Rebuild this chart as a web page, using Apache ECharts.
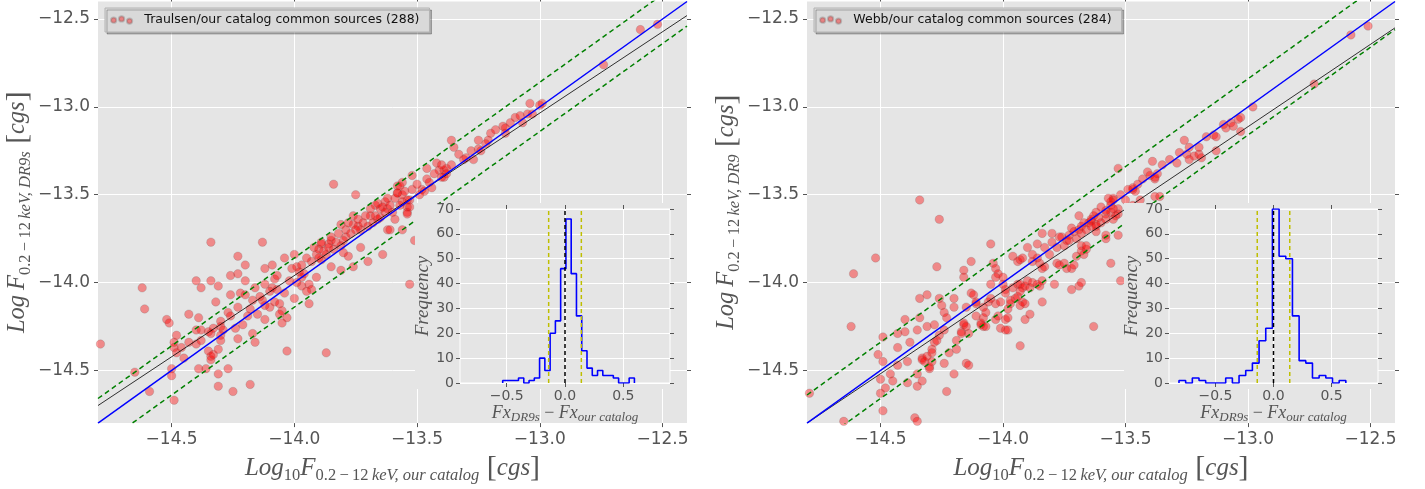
<!DOCTYPE html>
<html><head><meta charset="utf-8">
<script src="https://cdn.jsdelivr.net/npm/echarts@6/dist/echarts.min.js"></script>
<style>html,body{margin:0;padding:0;background:#fff}#c{width:1425px;height:489px}</style>
</head><body><div id="c"></div><script>
// ---------------- data ----------------
const axisMin = -14.8, axisMax = -12.4;
const mainTicks = [-14.5, -14.0, -13.5, -13.0, -12.5];
const histTicksX = [-0.5, 0, 0.5];
const histYMax = 70;
const leftName = 'Traulsen/our catalog common sources (288)';
const rightName = 'Webb/our catalog common sources (284)';

const leftPoints = [
[-14.79,-14.35],[-14.62,-14.03],[-14.61,-14.15],[-14.65,-14.51],[-14.59,-14.62],
[-14.52,-14.21],[-14.51,-14.23],[-14.48,-14.30],[-14.49,-14.34],[-14.49,-14.37],[-14.48,-14.40],[-14.46,-14.37],
[-14.43,-14.18],[-14.43,-14.34],[-14.45,-14.43],[-14.50,-14.49],[-14.50,-14.53],[-14.49,-14.67],
[-14.40,-13.99],[-14.38,-14.03],[-14.39,-14.20],[-14.40,-14.27],[-14.38,-14.27],[-14.40,-14.35],[-14.38,-14.33],[-14.39,-14.49],[-14.36,-14.49],
[-14.34,-13.77],[-14.34,-13.99],[-14.35,-14.28],[-14.34,-14.29],[-14.33,-14.26],[-14.35,-14.39],[-14.34,-14.42],[-14.34,-14.44],[-14.33,-14.41],
[-14.31,-14.52],[-14.31,-14.59],[-14.31,-14.38],[-14.31,-14.02],[-14.32,-14.11],[-14.30,-14.22],[-14.30,-14.25],[-14.29,-14.27],[-14.30,-14.30],[-14.30,-14.33],
[-14.27,-14.49],[-14.25,-14.62],[-14.26,-13.96],[-14.26,-14.07],[-14.27,-14.17],[-14.26,-14.19],
[-14.23,-13.85],[-14.23,-13.95],[-14.23,-14.14],[-14.22,-14.06],[-14.23,-14.32],
[-14.20,-13.90],[-14.20,-13.99],[-14.20,-14.07],[-14.19,-14.19],[-14.18,-14.58],[-14.17,-14.29],[-14.16,-14.34],[-14.16,-14.03],[-14.17,-14.10],
[-14.13,-13.77],[-14.12,-13.92],[-14.12,-14.01],[-14.13,-14.10],[-14.12,-14.13],[-14.10,-14.14],[-14.12,-14.21],
[-14.09,-13.90],[-14.08,-13.98],[-14.09,-14.03],[-14.07,-14.04],[-14.08,-14.11],[-14.06,-14.12],[-14.05,-14.16],[-14.06,-14.18],[-14.03,-14.20],[-14.05,-14.23],[-14.03,-14.39],
[-14.04,-13.86],[-14.00,-13.84],[-13.99,-13.91],[-14.01,-13.92],[-14.00,-14.09],[-13.98,-13.94],[-13.97,-13.97],[-13.97,-14.02],[-13.94,-14.01],[-13.93,-14.04],[-13.94,-14.12],
[-13.93,-13.88],[-13.91,-13.84],[-13.90,-13.81],[-13.89,-13.78],[-13.87,-13.84],[-13.86,-13.78],[-13.91,-13.97],[-13.87,-14.40],[-13.85,-13.91],[-13.84,-13.81],[-13.81,-13.79],[-13.80,-13.83],[-13.78,-13.85],[-13.76,-13.91],[-13.81,-13.93],[-13.73,-13.80],[-13.70,-13.88],[-13.64,-13.84],[-13.89,-13.87],
[-13.84,-13.44],[-13.75,-13.50],[-13.81,-13.67],[-13.76,-13.67],[-13.74,-13.68],[-13.73,-13.70],[-13.79,-13.74],[-13.69,-13.62],[-13.67,-13.56],[-13.65,-13.58],[-13.62,-13.58],[-13.63,-13.54],[-13.58,-13.45],[-13.58,-13.49],[-13.59,-13.64],[-13.62,-13.70],[-13.66,-13.64],[-13.89,-13.77],[-13.85,-13.76],
[-13.61,-13.70],[-13.56,-13.70],[-13.54,-13.57],[-13.54,-13.60],[-13.53,-13.53],[-13.56,-13.54],[-13.58,-13.49],[-13.48,-13.47],[-13.47,-13.48],[-13.51,-13.76],[-13.53,-14.01],
[-13.56,-13.43],[-13.57,-13.45],[-13.56,-13.50],[-13.54,-13.53],[-13.53,-13.57],[-13.54,-13.61],[-13.52,-13.39],
[-13.46,-13.35],[-13.46,-13.41],[-13.44,-13.46],[-13.42,-13.32],[-13.41,-13.36],[-13.39,-13.36],[-13.38,-13.35],[-13.38,-13.38],[-13.39,-13.40],[-13.40,-13.40],
[-13.36,-13.19],[-13.35,-13.23],[-13.36,-13.33],[-13.30,-13.29],[-13.27,-13.30],[-13.25,-13.24],[-13.24,-13.25],[-13.25,-13.19],[-13.21,-13.19],[-13.20,-13.15],
[-13.15,-13.11],[-13.14,-13.12],[-13.14,-13.15],[-13.10,-13.06],[-13.08,-13.05],[-13.07,-13.09],[-13.05,-13.04],[-13.03,-13.04],[-13.04,-12.98],[-12.99,-12.98],
[-12.74,-12.76],[-12.59,-12.56],[-12.52,-12.53],
[-13.97,-13.90],[-13.95,-13.86],[-13.92,-13.80],[-13.90,-13.86],[-13.88,-13.82],[-13.86,-13.80],[-13.85,-13.74],[-13.83,-13.77],[-13.82,-13.72],[-13.80,-13.76],[-13.79,-13.70],[-13.78,-13.66],[-13.77,-13.72],[-13.76,-13.62],[-13.75,-13.70],[-13.74,-13.64],[-13.72,-13.66],[-13.71,-13.62],[-13.70,-13.68],[-13.69,-13.58],[-13.68,-13.66],[-13.67,-13.62],[-13.66,-13.55],[-13.65,-13.63],[-13.64,-13.57],[-13.63,-13.60],[-13.62,-13.52],[-13.61,-13.56],[-13.60,-13.60],[-13.59,-13.52],[-13.57,-13.56],[-13.55,-13.48],[-13.52,-13.47],[-13.50,-13.44],[-13.49,-13.50],[-13.45,-13.43],[-13.43,-13.38],[-13.40,-13.33],[-13.33,-13.27],[-13.31,-13.30],[-13.28,-13.25],[-13.22,-13.21],[-13.18,-13.13],[-13.12,-13.09],[-13.00,-12.99],
[-14.10,-14.05],[-14.07,-13.96],[-14.04,-14.06],[-14.02,-13.99],[-13.99,-14.00],[-13.96,-13.95],[-13.95,-14.05],[-14.14,-14.08],[-14.18,-14.15],[-14.21,-14.24],[-14.24,-14.26],[-14.15,-14.18]
];

const rightPoints = [
[-14.79,-14.63],[-14.65,-14.79],[-14.62,-14.25],[-14.61,-13.95],[-14.52,-13.86],[-14.51,-14.41],[-14.49,-14.31],[-14.49,-14.45],[-14.50,-14.55],[-14.50,-14.63],[-14.49,-14.73],[-14.48,-14.60],[-14.46,-14.52],[-14.45,-14.56],
[-14.43,-14.37],[-14.43,-14.29],[-14.43,-14.47],[-14.40,-14.21],[-14.40,-14.28],[-14.39,-14.45],[-14.39,-14.57],[-14.38,-14.34],[-14.36,-14.77],[-14.35,-14.79],[-14.35,-14.59],[-14.35,-14.52],[-14.35,-14.27],[-14.34,-14.20],[-14.34,-14.09],[-14.33,-14.56],[-14.33,-14.43],
[-14.33,-14.44],[-14.32,-14.45],[-14.31,-14.42],[-14.30,-14.49],[-14.29,-14.38],[-14.29,-14.40],[-14.29,-14.45],[-14.28,-14.34],[-14.30,-14.48],
[-14.31,-14.25],[-14.28,-14.24],[-14.31,-14.07],[-14.27,-13.91],[-14.27,-14.33],[-14.26,-14.09],[-14.25,-14.13],[-14.26,-14.30],[-14.24,-14.17],[-14.24,-14.27],[-14.24,-14.46],[-14.23,-14.20],[-14.23,-14.62],[-14.22,-14.40],[-14.20,-14.52],[-14.20,-14.09],[-14.20,-14.14],[-14.19,-14.38],[-14.19,-14.33],
[-14.17,-14.28],[-14.16,-14.24],[-14.16,-14.23],[-14.17,-14.29],[-14.14,-14.29],[-14.15,-14.25],[-14.16,-13.93],[-14.16,-13.97],[-14.15,-14.46],[-14.14,-14.47],[-14.15,-14.14],
[-14.13,-14.06],[-14.12,-14.07],[-14.11,-14.12],[-14.11,-14.11],[-14.13,-13.88],
[-14.11,-14.19],[-14.09,-14.23],[-14.08,-14.25],[-14.07,-14.25],[-14.09,-14.24],[-14.08,-14.20],[-14.08,-14.14],[-14.07,-14.17],[-14.06,-14.11],[-14.05,-14.09],
[-14.05,-13.78],[-14.05,-14.01],[-14.04,-13.89],[-14.03,-13.92],[-14.02,-13.95],[-14.03,-13.97],[-14.03,-14.12],[-14.01,-14.11],[-14.02,-14.19],[-14.03,-14.21],
[-14.00,-13.97],[-14.00,-14.01],[-13.99,-14.04],[-13.99,-14.06],[-14.01,-14.26],[-13.99,-14.27],[-13.98,-14.27],[-13.99,-14.21],[-13.98,-14.20],[-13.97,-14.12],[-13.98,-14.15],[-13.97,-14.10],
[-13.93,-14.36],[-13.96,-13.85],[-13.94,-13.88],[-13.93,-13.87],[-13.92,-13.86],
[-13.96,-14.03],[-13.94,-14.01],[-13.93,-14.01],[-13.92,-14.03],[-13.91,-14.02],[-13.90,-13.99],[-13.89,-14.03],[-13.88,-14.00],[-13.86,-14.01],[-13.85,-14.02],[-13.84,-13.99],
[-13.95,-14.09],[-13.94,-14.08],[-13.93,-14.05],[-13.92,-14.11],[-13.91,-14.12],[-13.93,-14.13],[-13.89,-14.18],[-13.91,-14.21],
[-13.88,-13.88],[-13.86,-13.86],[-13.85,-13.89],[-13.84,-13.92],[-13.83,-13.91],[-13.79,-14.01],[-13.78,-13.89],[-13.77,-13.90],[-13.75,-13.89],[-13.74,-13.92],[-13.72,-13.92],[-13.71,-13.90],[-13.70,-13.85],[-13.67,-13.84],[-13.72,-14.04],[-13.69,-14.02],[-13.68,-14.00],[-13.68,-13.79],[-13.68,-13.82],[-13.66,-13.81],[-13.63,-14.25],[-13.66,-13.79],[-13.84,-14.11],
[-14.34,-13.53],[-14.26,-13.64],[-13.84,-13.72],[-13.80,-13.72],[-13.69,-13.62],[-13.76,-13.74],[-13.74,-13.76],[-13.73,-13.73],[-13.71,-13.71],[-13.69,-13.70],[-13.68,-13.68],[-13.65,-13.66],[-13.63,-13.62],[-13.62,-13.68],[-13.64,-13.65],
[-12.58,-12.59],[-12.51,-12.54],[-12.73,-12.87],[-12.98,-13.00],[-13.03,-13.06],[-13.04,-13.07],[-13.07,-13.09],[-13.06,-13.11],[-13.09,-13.12],[-13.03,-13.14],[-13.14,-13.16],[-13.13,-13.17],[-13.13,-13.25],[-13.26,-13.19],[-13.24,-13.23],[-13.25,-13.27],[-13.24,-13.30],[-13.22,-13.28],[-13.20,-13.27],[-13.20,-13.23],[-13.19,-13.29],[-13.29,-13.32],[-13.39,-13.31],[-13.41,-13.37],[-13.40,-13.39],[-13.38,-13.41],[-13.37,-13.38],[-13.38,-13.40],[-13.53,-13.35],[-13.47,-13.47],[-13.46,-13.48],[-13.47,-13.46],[-13.44,-13.53],[-13.55,-13.52],[-13.55,-13.53],[-13.56,-13.56],[-13.58,-13.61],[-13.56,-13.60],[-13.53,-13.58],[-13.53,-13.61],[-13.54,-13.62],[-13.47,-13.56],[-13.38,-13.51],[-13.36,-13.51],[-13.34,-13.60],[-13.35,-13.65],[-13.58,-13.75],[-13.47,-13.75],[-13.53,-13.73],
[-13.52,-13.99],[-13.56,-13.89],[-13.58,-13.73],[-13.62,-13.71],[-13.55,-13.64],[-13.58,-13.59],[-13.56,-13.54],[-13.62,-13.67],[-13.60,-13.66],[-13.64,-13.64],
[-13.90,-13.80],[-13.88,-13.84],[-13.86,-13.78],[-13.83,-13.80],[-13.81,-13.84],[-13.80,-13.77],[-13.78,-13.80],[-13.77,-13.74],[-13.75,-13.79],[-13.73,-13.76],[-13.72,-13.69],[-13.70,-13.75],[-13.68,-13.72],[-13.67,-13.66],[-13.66,-13.70],[-13.64,-13.68],[-13.62,-13.60],[-13.61,-13.63],[-13.60,-13.57],[-13.58,-13.64],[-13.57,-13.52],[-13.55,-13.58],[-13.52,-13.50],[-13.50,-13.53],[-13.49,-13.47],[-13.45,-13.44],[-13.43,-13.41],[-13.35,-13.33],[-13.32,-13.30],[-13.28,-13.26],[-13.17,-13.17],[-13.10,-13.10]
];

// reference lines (end points)
const leftOneToOne = [[-14.8,-14.8],[-12.4,-12.4]];
const leftFit      = [[-14.8,-14.70],[-12.4,-12.48]];
const leftUpper    = [[-14.8,-14.66],[-12.4,-12.26]];
const leftLower    = [[-14.8,-14.94],[-12.4,-12.54]];
const rightOneToOne= [[-14.8,-14.8],[-12.4,-12.4]];
const rightFit     = [[-14.8,-14.8],[-12.4,-12.55]];
const rightUpper   = [[-14.8,-14.64],[-12.4,-12.24]];
const rightLower   = [[-14.8,-14.96],[-12.4,-12.56]];

// histograms (25 bins between range ends)
const histLeftRange  = [-0.534, 0.595];
const histLeftCounts = [1,1,1,2,0,1,2,10,5,20,25,46,66,44,27,13,6,3,5,3,3,2,0,0,2];
const histRightRange = [-0.814, 0.623];
const histRightCounts= [1,0,2,1,0,0,0,2,0,3,5,8,17,22,70,51,50,27,9,8,2,3,2,0,1];
const histLeftCut  = [-0.14, 0.14];
const histRightCut = [-0.14, 0.14];

// ---------------- style ----------------
const GREY = '#E5E5E5', TXT = '#555555';
const MATH = "'Liberation Serif', 'DejaVu Serif', serif";
const SANS = "'DejaVu Sans', sans-serif";
const fmt = v => (v < -1e-9 ? '\u2212' : '') + Math.abs(v).toFixed(1);

function stepData(range, counts) {
  const n = counts.length, w = (range[1] - range[0]) / n;
  const d = [[range[0], 0]];
  counts.forEach((c, i) => d.push([range[0] + i * w, c]));
  d.push([range[1], counts[n - 1]]);
  d.push([range[1], 0]);
  return d;
}

function richMath(main, sub) {
  return {
    m: {fontFamily: MATH, fontStyle: 'italic', fontSize: main, color: TXT, lineHeight: 32, verticalAlign: 'middle'},
    r: {fontFamily: MATH, fontSize: sub, color: TXT, lineHeight: sub + 1, verticalAlign: 'bottom'},
    s: {fontFamily: MATH, fontStyle: 'italic', fontSize: sub, color: TXT, lineHeight: sub + 1, verticalAlign: 'bottom'},
    b: {fontFamily: MATH, fontSize: main + 5, color: TXT, lineHeight: 32, verticalAlign: 'middle'}
  };
}
const xName = '{m|Log}{r|10}{m|F}{r|0.2\u2009\u2212\u200912\u2009}{s|keV, our catalog}{b| [}{m|cgs}{b|]}';
const yNameL = '{m|Log\u2009F}{r|0.2\u2009\u2212\u200912\u2009}{s|keV, DR9s}{b| [}{m|cgs}{b|]}';
const yNameR = '{m|Log\u2009F}{r|0.2\u2009\u2212\u200912\u2009}{s|keV, DR9}{b| [}{m|cgs}{b|]}';
const richInset = {
  m: {fontFamily: MATH, fontStyle: 'italic', fontSize: 18, color: TXT, lineHeight: 22, verticalAlign: 'middle'},
  o: {fontFamily: MATH, fontSize: 18, color: TXT, lineHeight: 22, verticalAlign: 'middle'},
  s: {fontFamily: MATH, fontStyle: 'italic', fontSize: 13, color: TXT, lineHeight: 13, verticalAlign: 'bottom'}
};
const insetXName = '{m|Fx}{s|DR9s}{o| \u2212 }{m|Fx}{s|our catalog}';

const tickStyle = {show: true, inside: false, length: 4, lineStyle: {color: TXT, width: 1}};
const noLine = {show: false, onZero: false};

function mainAxes(grid, yName) {
  const xs = [{
    type: 'value', gridIndex: grid, min: axisMin, max: axisMax, position: 'bottom',
    axisLine: noLine,
    axisTick: Object.assign({customValues: mainTicks}, tickStyle),
    axisLabel: {customValues: mainTicks, formatter: fmt, color: TXT, fontSize: 17, fontFamily: SANS, margin: 8},
    splitLine: {show: true, lineStyle: {color: '#fff', width: 1}},
    name: xName, nameLocation: 'middle', nameGap: 23, nameTextStyle: {rich: richMath(25, 16.5)}
  }, {
    type: 'value', gridIndex: grid, min: axisMin, max: axisMax, position: 'top',
    axisLine: noLine, axisTick: Object.assign({customValues: mainTicks}, tickStyle),
    axisLabel: {show: false}, splitLine: {show: false}
  }];
  const ys = [{
    type: 'value', gridIndex: grid, min: axisMin, max: axisMax, position: 'left',
    axisLine: noLine,
    axisTick: Object.assign({customValues: mainTicks}, tickStyle),
    axisLabel: {customValues: mainTicks, formatter: fmt, color: TXT, fontSize: 17, fontFamily: SANS, margin: 8},
    splitLine: {show: true, lineStyle: {color: '#fff', width: 1}},
    name: yName, nameLocation: 'middle', nameRotate: 90, nameGap: 60, nameTextStyle: {rich: richMath(24.5, 16.5)}
  }, {
    type: 'value', gridIndex: grid, min: axisMin, max: axisMax, position: 'right',
    axisLine: noLine, axisTick: Object.assign({customValues: mainTicks}, tickStyle),
    axisLabel: {show: false}, splitLine: {show: false}
  }];
  return {xs, ys};
}
function insetAxes(grid) {
  const xs = [{
    type: 'value', gridIndex: grid, min: -0.9, max: 0.9, splitNumber: 3, position: 'bottom', zlevel: 1,
    axisLine: noLine,
    axisTick: Object.assign({customValues: histTicksX}, tickStyle),
    axisLabel: {customValues: histTicksX, formatter: fmt, color: TXT, fontSize: 14, fontFamily: SANS, margin: 6},
    splitLine: {show: true, lineStyle: {color: '#fff', width: 1}},
    name: insetXName, nameLocation: 'middle', nameGap: 19, nameTextStyle: {rich: richInset}
  }, {
    type: 'value', gridIndex: grid, min: -0.9, max: 0.9, splitNumber: 3, position: 'top', zlevel: 1,
    axisLine: noLine, axisTick: Object.assign({customValues: histTicksX}, tickStyle),
    axisLabel: {show: false}, splitLine: {show: false}
  }];
  const ys = [{
    type: 'value', gridIndex: grid, min: 0, max: histYMax, interval: 10, position: 'left', zlevel: 1,
    axisLine: noLine, axisTick: tickStyle,
    axisLabel: {color: TXT, fontSize: 14, fontFamily: SANS, margin: 6},
    splitLine: {show: true, lineStyle: {color: '#fff', width: 1}},
    name: 'Frequency', nameLocation: 'middle', nameRotate: 90, nameGap: 25,
    nameTextStyle: {fontFamily: MATH, fontStyle: 'italic', fontSize: 19, color: TXT}
  }, {
    type: 'value', gridIndex: grid, min: 0, max: histYMax, interval: 10, position: 'right', zlevel: 1,
    axisLine: noLine, axisTick: tickStyle, axisLabel: {show: false}, splitLine: {show: false}
  }];
  return {xs, ys};
}

const aL = mainAxes(0, yNameL), aR = mainAxes(1, yNameR), iL = insetAxes(2), iR = insetAxes(3);

function lineSeries(data, xi, yi, color, width, type, zlevel) {
  return {type: 'line', data, xAxisIndex: xi, yAxisIndex: yi, symbol: 'none', silent: true, animation: false,
    lineStyle: {color, width, type: type || 'solid'}, zlevel: zlevel || 0, z: 4, clip: true};
}
function scatterSeries(name, data, xi, yi) {
  return {type: 'scatter', name, data, xAxisIndex: xi, yAxisIndex: yi, symbolSize: 8.5, animation: false,
    itemStyle: {color: 'rgba(255,0,0,0.5)', borderColor: 'rgba(90,90,90,0.35)', borderWidth: 0.7}, z: 3};
}
function histSeries(range, counts, cut, xi, yi) {
  return [
    {type: 'line', step: 'end', data: stepData(range, counts), xAxisIndex: xi, yAxisIndex: yi, symbol: 'none',
      silent: true, animation: false, lineStyle: {color: '#0000FF', width: 1.6}, zlevel: 1, z: 3, clip: true},
    lineSeries([[0, 0], [0, histYMax]], xi, yi, '#000', 1.5, [4, 3], 1),
    lineSeries([[cut[0], 0], [cut[0], histYMax]], xi, yi, '#BFBF00', 1.5, [4, 3], 1),
    lineSeries([[cut[1], 0], [cut[1], histYMax]], xi, yi, '#BFBF00', 1.5, [4, 3], 1)
  ];
}

const dotsIcon = 'path://M2,6a3,3 0 1,0 6,0a3,3 0 1,0 -6,0Z M11,4.5a3,3 0 1,0 6,0a3,3 0 1,0 -6,0Z M20,7a3,3 0 1,0 6,0a3,3 0 1,0 -6,0Z';
function legendFor(name, left) {
  return {data: [{name, icon: dotsIcon}], left, top: 8, orient: 'horizontal',
    itemWidth: 22.5, itemHeight: 7.5, padding: [4, 10, 4, 5],
    backgroundColor: '#D9D9D9', borderColor: '#B3B3B3', borderWidth: 1,
    shadowColor: 'rgba(0,0,0,0.25)', shadowOffsetX: 2, shadowOffsetY: 2, shadowBlur: 0,
    textStyle: {fontFamily: SANS, fontSize: 12.5, color: '#111', padding: [0, 0, 0, 6.5], lineHeight: 16},
    selectedMode: false};
}

const option = {
  backgroundColor: '#ffffff',
  animation: false,
  grid: [
    {left: 98, top: 1.5, width: 589, height: 428, show: true, backgroundColor: GREY, borderWidth: 0},
    {left: 807, top: 1.5, width: 588, height: 428, show: true, backgroundColor: GREY, borderWidth: 0},
    {left: 460, top: 209, width: 210, height: 174, show: true, backgroundColor: GREY, borderColor: '#fff', borderWidth: 1, zlevel: 1},
    {left: 1169, top: 209, width: 209, height: 174, show: true, backgroundColor: GREY, borderColor: '#fff', borderWidth: 1, zlevel: 1}
  ],
  graphic: {elements: [
    {type: 'rect', zlevel: 1, z: -5, shape: {x: 415, y: 203, width: 255, height: 186}, style: {fill: GREY}, silent: true},
    {type: 'rect', zlevel: 1, z: -5, shape: {x: 1124, y: 203, width: 254, height: 186}, style: {fill: GREY}, silent: true}
  ]},
  legend: [legendFor(leftName, 105), legendFor(rightName, 814)],
  xAxis: [...aL.xs, ...aR.xs, ...iL.xs, ...iR.xs],
  yAxis: [...aL.ys, ...aR.ys, ...iL.ys, ...iR.ys],
  series: [
    scatterSeries(leftName, leftPoints, 0, 0),
    lineSeries(leftFit, 0, 0, '#000', 0.8),
    lineSeries(leftOneToOne, 0, 0, '#0000FF', 1.5),
    lineSeries(leftUpper, 0, 0, '#008000', 1.5, [5, 3.5]),
    lineSeries(leftLower, 0, 0, '#008000', 1.5, [5, 3.5]),
    scatterSeries(rightName, rightPoints, 2, 2),
    lineSeries(rightFit, 2, 2, '#000', 0.8),
    lineSeries(rightOneToOne, 2, 2, '#0000FF', 1.5),
    lineSeries(rightUpper, 2, 2, '#008000', 1.5, [5, 3.5]),
    lineSeries(rightLower, 2, 2, '#008000', 1.5, [5, 3.5]),
    ...histSeries(histLeftRange, histLeftCounts, histLeftCut, 4, 4),
    ...histSeries(histRightRange, histRightCounts, histRightCut, 6, 6)
  ]
};
const chart = echarts.init(document.getElementById('c'));
chart.setOption(option);
</script></body></html>
